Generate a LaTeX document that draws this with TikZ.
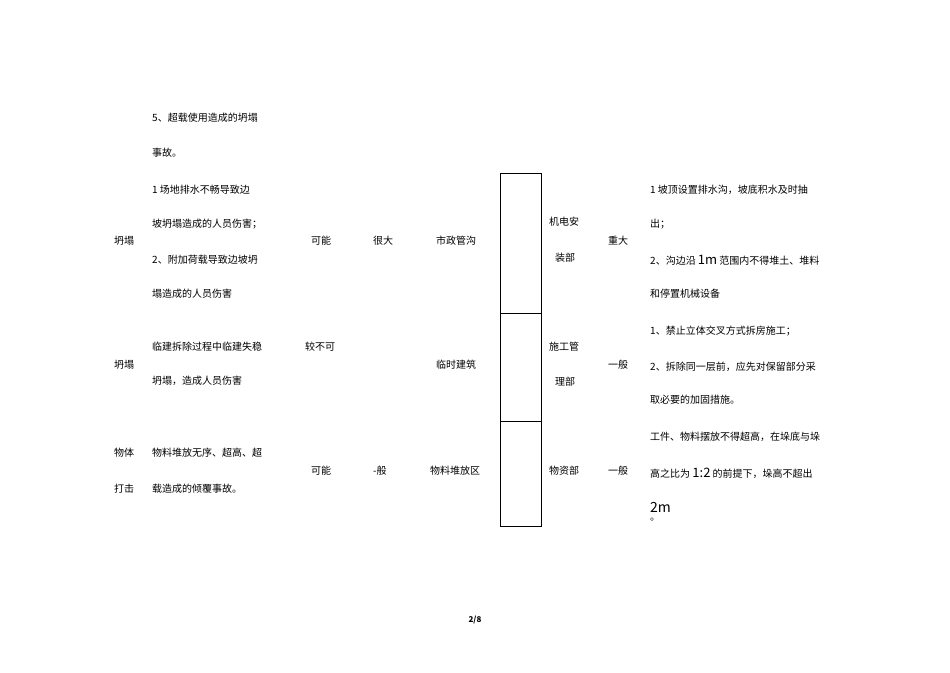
\documentclass[tikz,border=0pt]{standalone}
\usepackage{fontspec}
\setmainfont{Noto Sans CJK SC}
\begin{document}
\begin{tikzpicture}[x=1pt,y=-1pt,
  t/.style={anchor=west,inner sep=0pt,font=\fontsize{10}{12}\selectfont},
  ln/.style={draw=black,line width=0.7pt}]
\useasboundingbox (0,0) rectangle (950,672);
\coordinate (b1) at (500,173); \coordinate (b2) at (541,526);
\draw[ln] (b1) rectangle (b2);
\coordinate (h1l) at (500,313); \coordinate (h1r) at (541,313);
\coordinate (h2l) at (500,421); \coordinate (h2r) at (541,421);
\draw[ln] (h1l) -- (h1r); \draw[ln] (h2l) -- (h2r);
\node[t] (a1) at (152,118) {5、超载使用造成的坍塌};
\node[t] (a2) at (152,153) {事故。};
\node[t] (a3) at (152,190) {1 场地排水不畅导致边};
\node[t] (a4) at (152,224) {坡坍塌造成的人员伤害；};
\node[t] (a5) at (114,241) {坍塌};
\node[t] (a6) at (152,260) {2、附加荷载导致边坡坍};
\node[t] (a7) at (152,294) {塌造成的人员伤害};
\node[t] (a8) at (311,241) {可能};
\node[t] (a9) at (373,241) {很大};
\node[t] (a10) at (436,241) {市政管沟};
\node[t] (a11) at (549,222) {机电安};
\node[t] (a12) at (555,258) {装部};
\node[t] (a13) at (608,241) {重大};
\node[t] (a14) at (650,190) {1 坡顶设置排水沟，坡底积水及时抽};
\node[t] (a15) at (650,224) {出；};
\node[t] (a16) at (650,260) {2、沟边沿 {\fontsize{13}{14}\selectfont 1m} 范围内不得堆土、堆料};
\node[t] (a17) at (650,294) {和停置机械设备};
\node[t] (b1t) at (114,365) {坍塌};
\node[t] (b2t) at (152,347) {临建拆除过程中临建失稳};
\node[t] (b3t) at (305,347) {较不可};
\node[t] (b4t) at (152,381) {坍塌，造成人员伤害};
\node[t] (b5t) at (436,365) {临时建筑};
\node[t] (b6t) at (549,347) {施工管};
\node[t] (b7t) at (555,382) {理部};
\node[t] (b8t) at (608,365) {一般};
\node[t] (b9t) at (650,331) {1、禁止立体交叉方式拆房施工；};
\node[t] (b10t) at (650,367) {2、拆除同一层前，应先对保留部分采};
\node[t] (b11t) at (650,400) {取必要的加固措施。};
\node[t] (c1) at (114,453) {物体};
\node[t] (c2) at (114,489) {打击};
\node[t] (c3) at (152,453) {物料堆放无序、超高、超};
\node[t] (c4) at (152,489) {载造成的倾覆事故。};
\node[t] (c5) at (311,471) {可能};
\node[t] (c6) at (373,471) {-般};
\node[t] (c7) at (430,471) {物料堆放区};
\node[t] (c8) at (549,471) {物资部};
\node[t] (c9) at (608,471) {一般};
\node[t] (c10) at (650,437) {工件、物料摆放不得超高，在垛底与垛};
\node[t] (c11) at (650,473) {高之比为 {\fontsize{13}{14}\selectfont 1:2} 的前提下，垛高不超出};
\node[t,font=\fontsize{14}{16}\selectfont] (c12) at (650,507) {2m};
\node[t] (c13) at (650,520) {。};
\node[inner sep=0pt,font=\fontsize{8}{10}\selectfont\bfseries] (pg) at (475,620) {2/8};
\end{tikzpicture}
\end{document}
